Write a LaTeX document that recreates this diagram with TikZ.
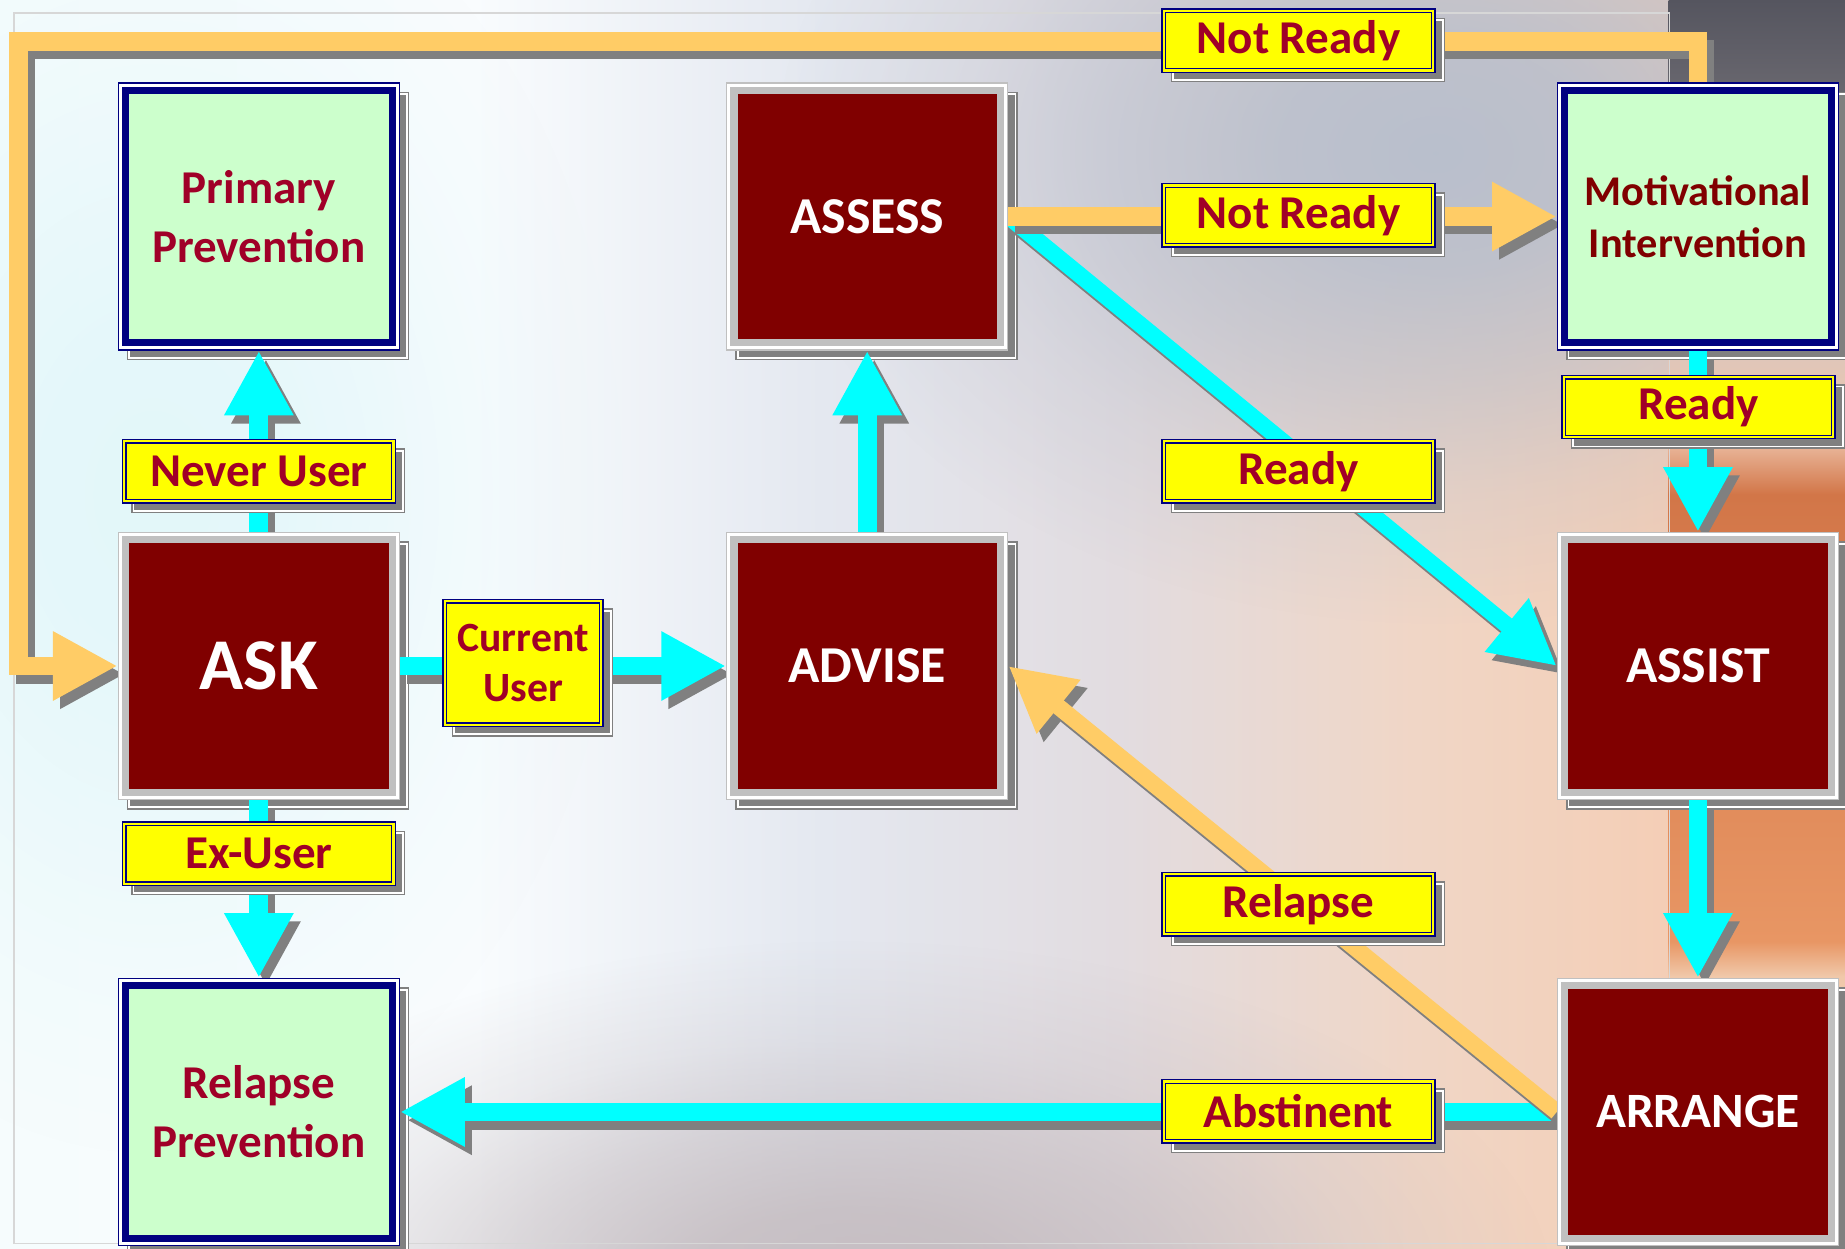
\documentclass[tikz,border=0pt]{standalone}
\usepackage{fontspec}
\setmainfont{Carlito}
\usetikzlibrary{arrows.meta,fadings}
\definecolor{navy}{RGB}{0,0,128}
\definecolor{pgreen}{RGB}{204,255,204}
\definecolor{dred}{RGB}{128,0,0}
\definecolor{bgray}{RGB}{192,192,192}
\definecolor{sgray}{RGB}{128,128,128}
\definecolor{lyel}{RGB}{255,255,0}
\definecolor{tred}{RGB}{160,0,40}
\definecolor{mred}{RGB}{128,0,0}
\definecolor{cyn}{RGB}{0,255,255}
\definecolor{orng}{RGB}{255,204,102}
\definecolor{framegray}{RGB}{215,215,215}
\definecolor{glowA}{RGB}{182,190,205}
\definecolor{glowB}{RGB}{192,182,186}
\definecolor{glowC}{RGB}{222,246,249}
\definecolor{hA}{RGB}{246,252,253}
\definecolor{hB}{RGB}{249,252,254}
\definecolor{hC}{RGB}{228,232,240}
\definecolor{hD}{RGB}{226,220,224}
\definecolor{hE}{RGB}{240,214,198}
\definecolor{hF}{RGB}{244,206,182}
\definecolor{vA}{RGB}{246,222,205}
\definecolor{vB}{RGB}{240,200,170}
\definecolor{vC}{RGB}{232,150,100}
\definecolor{vD}{RGB}{210,118,72}
\definecolor{vE}{RGB}{238,196,172}
\definecolor{vF}{RGB}{212,200,196}
\definecolor{vG}{RGB}{110,108,115}
\definecolor{vH}{RGB}{85,85,95}
\pgfdeclarehorizontalshading{bgh}{100bp}{color(0bp)=(hA); color(25bp)=(hA); color(37.8bp)=(hB); color(47.3bp)=(hC); color(55.3bp)=(hD); color(63.3bp)=(hE); color(70.2bp)=(hF); color(75bp)=(hF); color(100bp)=(hF)}
\pgfdeclareverticalshading{stripsh}{100bp}{color(0bp)=(vA); color(25bp)=(vA); color(35.9bp)=(vB); color(37.3bp)=(vC); color(55.2bp)=(vD); color(57.6bp)=(vE); color(63.2bp)=(vF); color(70.3bp)=(vG); color(75bp)=(vH); color(100bp)=(vH)}
\pgfdeclareradialshading{glowsh}{\pgfpointorigin}{color(0bp)=(pgftransparent!0); color(6bp)=(pgftransparent!10); color(12bp)=(pgftransparent!40); color(18bp)=(pgftransparent!75); color(25bp)=(pgftransparent!100); color(50bp)=(pgftransparent!100)}
\pgfdeclarefading{glowf}{\pgfuseshading{glowsh}}
\pgfdeclarelayer{bgl}
\pgfdeclarelayer{boxsh}
\pgfdeclarelayer{arr}
\pgfdeclarelayer{labsh}
\pgfsetlayers{bgl,boxsh,arr,labsh,main}
\tikzset{
  box/.style={minimum width=113.2pt, minimum height=107.2pt, inner sep=0pt, outer sep=3.4pt, line width=3pt, align=center},
  gbox/.style={box, draw=navy, fill=pgreen, text=tred, font=\fontsize{20}{25}\selectfont\bfseries},
  rbox/.style={box, draw=bgray, fill=dred, text=white, font=\fontsize{22}{26}\selectfont\bfseries},
  lab/.style={draw=navy, fill=lyel, line width=0.6pt, inner sep=0pt, outer sep=1.8pt, minimum width=112.9pt, minimum height=23.9pt, text=tred, font=\fontsize{20}{24}\selectfont\bfseries, align=center},
  gframe/.style={draw=navy, double=white, line width=0.6pt, double distance=1.3pt},
  rframe/.style={draw=bgray, double=white, line width=0.6pt, double distance=1.3pt},
  lframe/.style={draw=navy, double=lyel, line width=0.6pt, double distance=0.9pt},
  shad/.style={fill=sgray, draw=sgray, double=white, line width=0.6pt, double distance=0.8pt},
  cyarr/.style={draw=cyn, line width=8pt, line join=miter, -{Triangle[length=27.5pt,width=27.5pt]}},
  orarr/.style={draw=orng, line width=8pt, line join=miter, -{Triangle[length=27.5pt,width=27.5pt]}},
}
\newcommand\frm[3]{\draw[#2] ([shift={(#3,-#3)}]#1.north west) rectangle ([shift={(-#3,#3)}]#1.south east);}
\newcommand\shd[1]{\path[shad] ([shift={(5pt,-5pt)}]#1.north west) rectangle ([shift={(3pt,-3pt)}]#1.south east);}
\newcommand\farrow[2]{\begin{scope}[transform canvas={shift={(3pt,-3.5pt)}}]\draw[#1,draw=sgray] #2;\end{scope}\draw[#1] #2;}
\begin{document}
\begin{tikzpicture}[x=0.5pt,y=-0.5pt]
\useasboundingbox (0,0) rectangle (1568,1061);
% background
\begin{pgfonlayer}{bgl}
  \shade[shading=bgh] (0,0) rectangle (1568,1061);
  \fill[glowC, fill opacity=0.8, path fading=glowf] (130,420) ellipse [x radius=200pt, y radius=280pt];
  \fill[glowA, fill opacity=0.95, path fading=glowf] (1220,130) ellipse [x radius=280pt, y radius=200pt];
  \fill[glowB, fill opacity=0.85, path fading=glowf] (720,1100) ellipse [x radius=300pt, y radius=150pt];
  \shade[shading=stripsh] (1418,0) rectangle (1568,1061);
  \draw[framegray, line width=0.6pt] (12,11) rectangle (1419,1057);
\end{pgfonlayer}
% boxes
\node[gbox] (PP) at (220,184) {Primary\\Prevention};
\node[gbox] (RP) at (220,945) {Relapse\\Prevention};
\node[gbox, text=mred, font=\fontsize{18}{22}\selectfont\bfseries] (MI) at (1443,184) {Motivational\\Intervention};
\node[rbox, font=\fontsize{31}{36}\selectfont\bfseries] (ASK) at (220,566) {ASK};
\node[rbox] (ASSESS) at (737,184) {ASSESS};
\node[rbox] (ADVISE) at (737,566) {ADVISE};
\node[rbox] (ASSIST) at (1443,566) {ASSIST};
\node[rbox, font=\fontsize{21}{25}\selectfont\bfseries] (ARRANGE) at (1443,945) {ARRANGE};
% labels
\node[lab] (nr1) at (1103.5,34.5) {Not Ready};
\node[lab] (nr2) at (1103.5,183) {Not Ready};
\node[lab] (rd1) at (1103.5,400.5) {Ready};
\node[lab] (rel) at (1103.5,768.5) {Relapse};
\node[lab] (abs) at (1103.5,944.5) {Abstinent};
\node[lab] (nu) at (220,400.5) {Never User};
\node[lab] (exu) at (220,725.5) {Ex-User};
\node[lab] (rd2) at (1443.5,346) {Ready};
\node[lab, minimum width=64.9pt, minimum height=50.9pt, font=\fontsize{17.7}{21}\selectfont\bfseries] (cu) at (444.5,563.5) {Current\\User};
\coordinate (lp1) at (16,35);
% frames
\foreach \n in {PP,RP,MI} {\frm{\n}{gframe}{1.25pt}}
\foreach \n in {ASK,ASSESS,ADVISE,ASSIST,ARRANGE} {\frm{\n}{rframe}{1.25pt}}
\foreach \n in {nr1,nr2,rd1,rel,abs,nu,exu,rd2,cu} {\frm{\n}{lframe}{1.05pt}}
% shadows
\begin{pgfonlayer}{boxsh}
  \foreach \n in {PP,RP,MI,ASK,ASSESS,ADVISE,ASSIST,ARRANGE} {\shd{\n}}
\end{pgfonlayer}
\begin{pgfonlayer}{labsh}
  \foreach \n in {nr1,nr2,rd1,rel,abs,nu,exu,rd2,cu} {\shd{\n}}
\end{pgfonlayer}
% connectors
\begin{pgfonlayer}{arr}
  \farrow{orarr}{(MI.north) |- (lp1) |- (ASK.west)}
  \farrow{cyarr}{(ASK.east) -- (ADVISE.west)}
  \farrow{cyarr}{(ADVISE.north) -- (ASSESS.south)}
  \farrow{cyarr}{(ASK.north) -- (PP.south)}
  \farrow{cyarr}{(ASK.south) -- (RP.north)}
  \farrow{cyarr}{(MI.south) -- (ASSIST.north)}
  \farrow{cyarr}{(ASSIST.south) -- (ARRANGE.north)}
  \farrow{cyarr}{(ARRANGE.west) -- (RP.east)}
  \farrow{cyarr,line width=7pt}{(ASSESS.east) -- (ASSIST.west)}
  \farrow{orarr}{(ASSESS.east) -- (MI.west)}
  \farrow{orarr,line width=7pt}{(ARRANGE.west) -- (ADVISE.east)}
\end{pgfonlayer}
\end{tikzpicture}
\end{document}
